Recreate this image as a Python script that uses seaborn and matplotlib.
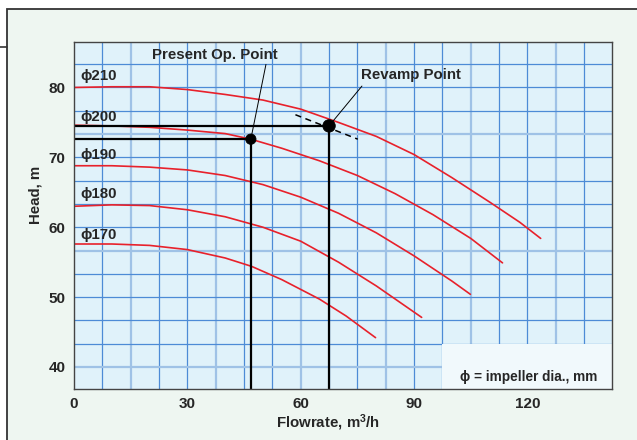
import numpy as np
import pandas as pd
import matplotlib
matplotlib.use('Agg')
import matplotlib.pyplot as plt
import seaborn as sns
from matplotlib.patches import Rectangle
from matplotlib.lines import Line2D

sns.set_style('white')
plt.rcParams['font.family'] = ['Liberation Sans', 'DejaVu Sans']
plt.rcParams['mathtext.fontset'] = 'custom'
plt.rcParams['mathtext.bf'] = 'Liberation Sans:bold'
plt.rcParams['mathtext.rm'] = 'Liberation Sans:bold'
plt.rcParams['mathtext.default'] = 'bf'

# pump curves (flow m3/h, head m)
q_210 = [0, 10, 20, 30, 40, 50, 60, 70, 80, 90, 100, 110, 118, 123.5]
h_210 = [80.0, 80.1, 80.1, 79.7, 79.0, 78.2, 76.9, 75.0, 73.0, 70.4, 67.1, 63.6, 60.7, 58.4]
q_200 = [0, 10, 20, 30, 40, 46.8, 55, 65, 75, 85, 95, 105, 113.4]
h_200 = [74.6, 74.5, 74.3, 73.9, 73.4, 72.6, 71.3, 69.5, 67.4, 64.8, 61.8, 58.4, 54.9]
q_190 = [0, 10, 20, 30, 40, 50, 60, 70, 80, 90, 100, 104.9]
h_190 = [68.8, 68.8, 68.6, 68.2, 67.4, 66.1, 64.3, 62.0, 59.2, 55.9, 52.3, 50.4]
q_180 = [0, 10, 20, 30, 40, 50, 60, 70, 80, 92]
h_180 = [63.0, 63.2, 63.1, 62.5, 61.5, 60.0, 58.0, 55.0, 51.6, 47.1]
q_170 = [0, 10, 20, 30, 40, 47, 55, 65, 72, 79.8]
h_170 = [57.6, 57.6, 57.4, 56.8, 55.6, 54.4, 52.5, 49.7, 47.3, 44.2]

dia_labels = ['\u03d5210', '\u03d5200', '\u03d5190', '\u03d5180', '\u03d5170']
label_heads = [81.6, 75.8, 70.3, 64.7, 58.9]

present_q, present_h = 46.8, 72.6
revamp_q, revamp_h = 67.5, 74.5
system_q = [58.6, 75.1]
system_h = [76.1, 72.6]

x_ticks = [0, 30, 60, 90, 120]
y_ticks = [40, 50, 60, 70, 80]

curves = pd.concat([
    pd.DataFrame({'flow': q, 'head': h, 'dia': d})
    for q, h, d in [(q_210, h_210, 210), (q_200, h_200, 200), (q_190, h_190, 190),
                    (q_180, h_180, 180), (q_170, h_170, 170)]
])
points = pd.DataFrame({'flow': [present_q, revamp_q], 'head': [present_h, revamp_h],
                       'size': [55, 80]})

fig = plt.figure(figsize=(6.37, 4.40), dpi=100)
fig.patch.set_facecolor('white')
# outer panel
fig.patches.append(Rectangle((7 / 637, -0.05), 1.1, 1 - 9 / 440 + 0.05, transform=fig.transFigure,
                             facecolor='#eef6f1', edgecolor='#333333', lw=1.3, zorder=-5))
fig.lines.append(Line2D([0, 7 / 637], [1 - 46.7 / 440] * 2, transform=fig.transFigure,
                        color='#333333', lw=1.2, zorder=-4))

ax = fig.add_axes([74 / 637, 1 - 389 / 440, 537.7 / 637, 347.3 / 440])
ax.set_zorder(2)
ax.set_facecolor('#e0f2fa')
ax.set_xlim(0, 142.3)
ax.set_ylim(36.85, 86.55)

# grid
for k in range(1, 19):
    gx = 7.5 * k
    thick = abs((gx - 15) % 22.5) < 1e-6
    ax.axvline(gx, color='#9fc2e6' if thick else '#4d8bd6', lw=1.6 if thick else 0.9, zorder=1)
for k in range(1, 15):
    gy = 36.6667 + 10 / 3 * k
    thick = k in (1, 6, 11)
    ax.axhline(gy, color='#9fc2e6' if thick else '#4d8bd6', lw=1.6 if thick else 0.9, zorder=1)

# legend box
ax.add_patch(Rectangle((97.5, 36.85), 50, 40 - 36.85 + 3.3333 * 0.98, facecolor='#f1f9fc',
                       edgecolor='none', zorder=2))
ax.text(120.2, 38.6, '\u03d5 = impeller dia., mm', ha='center', va='center', fontsize=9.8,
        fontweight='bold', zorder=3)

sns.lineplot(data=curves, x='flow', y='head', units='dia', estimator=None, sort=False,
             color='#e8212b', lw=1.2, ax=ax, zorder=4)

# operating point guide lines
ax.plot([0, revamp_q], [revamp_h, revamp_h], color='black', lw=1.6, zorder=5)
ax.plot([0, present_q], [present_h, present_h], color='black', lw=1.6, zorder=5)
ax.plot([revamp_q, revamp_q], [36.85, revamp_h], color='black', lw=1.6, zorder=5)
ax.plot([present_q, present_q], [36.85, present_h], color='black', lw=1.6, zorder=5)
ax.plot(system_q, system_h, color='black', lw=1.1, ls=(0, (4, 3)), zorder=5)

sns.scatterplot(data=points, x='flow', y='head', size='size', sizes=(55, 80), color='black',
                edgecolor='black', legend=False, ax=ax, zorder=6)

ax.plot([50.8, present_q], [83.3, present_h], color='black', lw=0.7, zorder=5)
ax.plot([76.2, revamp_q], [80.2, revamp_h], color='black', lw=0.7, zorder=5)
ax.text(37.3, 84.6, 'Present Op. Point', ha='center', va='center', fontsize=10.8,
        fontweight='bold', zorder=6)
ax.text(89.2, 81.8, 'Revamp Point', ha='center', va='center', fontsize=10.8,
        fontweight='bold', zorder=6)

for lab, hy in zip(dia_labels, label_heads):
    ax.text(1.6, hy, lab, ha='left', va='center', fontsize=10.8, fontweight='bold', zorder=6)

ax.set_xticks(x_ticks)
ax.set_yticks(y_ticks)
ax.tick_params(length=0, labelsize=11, pad=6)
for t in ax.get_xticklabels() + ax.get_yticklabels():
    t.set_fontweight('bold')
ax.set_xlabel('Flowrate, m$^3$/h', fontsize=10.8, fontweight='bold', va='center')
ax.xaxis.set_label_coords(0.473, -0.098)
ax.set_ylabel('Head, m', fontsize=10.8, fontweight='bold', va='center')
ax.yaxis.set_label_coords(-0.0725, 0.559)
for s in ax.spines.values():
    s.set_color('#444444')
    s.set_linewidth(1.0)
    s.set_zorder(7)

fig.savefig('out.png', dpi=100)
